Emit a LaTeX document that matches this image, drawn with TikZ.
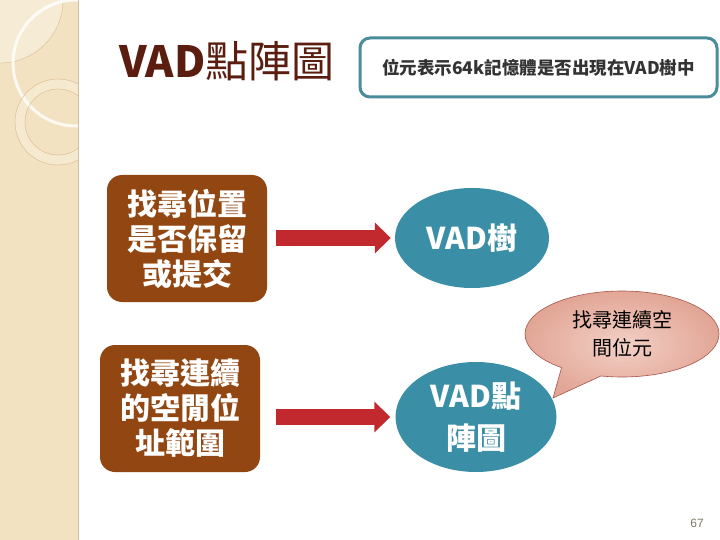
\documentclass[tikz,border=0pt]{standalone}
\usepackage{fontspec}
\setmainfont{Liberation Sans}
\newfontfamily\cjk{Noto Sans CJK TC}
\usepackage{xcolor}
\usepackage{tikz}
\usetikzlibrary{shapes,shapes.callouts,arrows.meta}

\definecolor{bandbeige}{HTML}{F2E2C1}
\definecolor{titlebrown}{HTML}{5A1D10}
\definecolor{boxbrown}{HTML}{924612}
\definecolor{ovalteal}{HTML}{3A8FA6}
\definecolor{frameteal}{HTML}{4B8C9C}
\definecolor{arrowred}{HTML}{C1292F}
\definecolor{bubblelight}{HTML}{F3D0C6}
\definecolor{bubbledark}{HTML}{E2A696}
\definecolor{bubbleline}{HTML}{A65448}

\begin{document}
\begin{tikzpicture}[x=1pt, y=-1pt, every node/.style={font=\cjk}]
        \tikzstyle{block} = [rectangle, rounded corners=15pt, fill=boxbrown, text=white,
            align=center, minimum width=160pt, minimum height=127pt, inner sep=0pt,
            font=\cjk\bfseries\fontsize{30}{35}\selectfont]
        \tikzstyle{oval} = [ellipse, fill=ovalteal, text=white, align=center, inner sep=0pt,
            font=\cjk\bfseries\fontsize{30}{42}\selectfont]
        \tikzstyle{bigarrow} = [-{Triangle[width=30pt, length=16pt]}, line width=16pt, arrowred]

        \useasboundingbox (0,0) rectangle (720,540);
        \fill[white] (0,0) rectangle (720,540);

        \fill[bandbeige] (0,0) rectangle (78,540);
        \begin{scope}
            \clip (0,0) rectangle (78,540);
            \fill[white, opacity=0.35] (0,0) circle (63pt);
            \draw[bandbeige!60!brown, line width=0.4pt] (0,0) circle (63pt);
            \draw[white, opacity=0.8, line width=3pt] (76,63) circle (63pt);
            \fill[white, opacity=0.25, even odd rule] (58,122) circle (43pt) (58,122) circle (33pt);
            \draw[bandbeige!55!brown, line width=0.4pt] (58,122) circle (43pt);
            \draw[bandbeige!55!brown, line width=0.4pt] (58,122) circle (33pt);
        \end{scope}
        \draw[bandbeige!85!black, line width=0.5pt] (78,0) -- (78,540);

        \node (title) [anchor=west, inner sep=0pt, text=titlebrown,
            font=\cjk\fontsize{43}{43}\selectfont] at (119,61) {{\bfseries VAD}點陣圖};

        \node (note) [rectangle, rounded corners=10pt, draw=frameteal, line width=3pt,
            minimum width=357pt, minimum height=59pt, text=black!80,
            font=\cjk\bfseries\fontsize{17.5}{20}\selectfont] at (538.5,67.5)
            {位元表示64k記憶體是否出現在VAD樹中};

        \node (seek) [block] at (187,238.5) {找尋位置\\是否保留\\或提交};
        \node (range) [block] at (180,408.5) {找尋連續\\的空閒位\\址範圍};

        \node (tree) [oval, minimum width=154pt, minimum height=100pt] at (472,238) {VAD樹};
        \node (bitmap) [oval, minimum width=161pt, minimum height=110pt] at (476,417) {VAD點\\陣圖};

        \node (hint) [ellipse callout, callout absolute pointer={(553,398)}, callout pointer arc=26,
            inner color=bubblelight, outer color=bubbledark, draw=bubbleline, line width=0.6pt,
            minimum width=194pt, minimum height=86pt, inner sep=0pt, align=center,
            font=\cjk\fontsize{20}{28}\selectfont] at (622,334) {找尋連續空\\間位元};

        \draw [bigarrow, shorten <=9pt, shorten >=4pt] (seek.east |- tree.west) -- (tree.west);
        \draw [bigarrow, shorten <=16pt, shorten >=5pt] (range.east |- bitmap.west) -- (bitmap.west);

        \node (page) [text=black!45!olive!40!gray, font=\fontsize{12}{12}\selectfont] at (697,523) {67};
    \end{tikzpicture}
\end{document}
